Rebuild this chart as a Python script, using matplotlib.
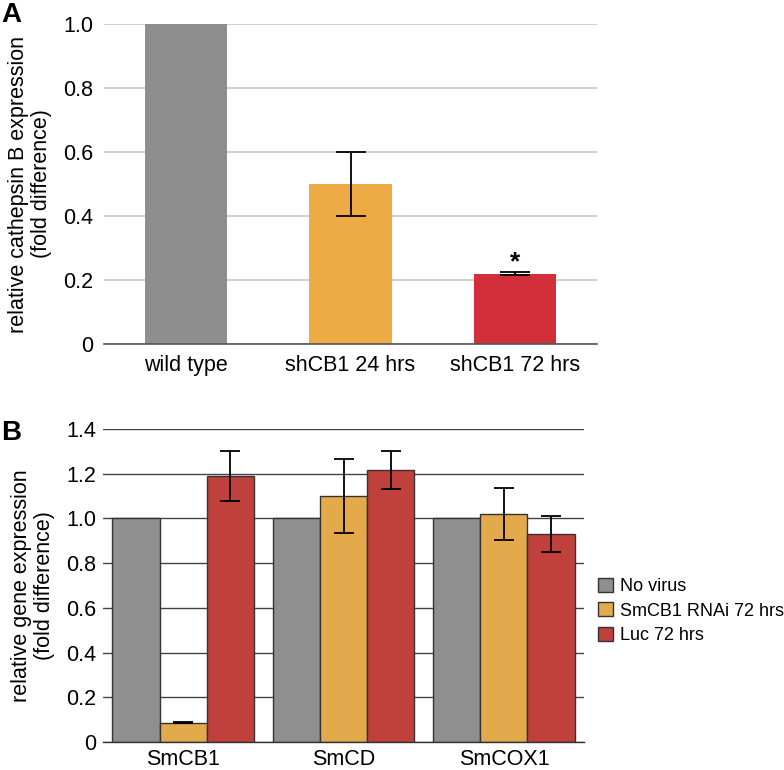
import numpy as np
import matplotlib
matplotlib.use("Agg")
import matplotlib.pyplot as plt

plt.rcParams['font.family'] = ['Liberation Sans', 'DejaVu Sans']

# Panel A data
a_labels = ['wild type', 'shCB1 24 hrs', 'shCB1 72 hrs']
a_values = [1.0, 0.50, 0.22]
a_errors = [0.0, 0.10, 0.004]
a_colors = ['#8e8e8e', '#eeab45', '#d22f3a']

# Panel B data
b_genes = ['SmCB1', 'SmCD', 'SmCOX1']
b_series = ['No virus', 'SmCB1 RNAi 72 hrs', 'Luc 72 hrs']
b_novirus = [1.0, 1.0, 1.0]
b_rnai = [0.086, 1.10, 1.02]
b_rnai_err = [0.003, 0.165, 0.115]
b_luc = [1.19, 1.215, 0.93]
b_luc_err = [0.11, 0.085, 0.08]
b_colors = ['#8f8f8f', '#e3aa4b', '#c0403c']

FS = 15.5

fig = plt.figure(figsize=(7.84, 7.70), dpi=100)

# ---- Panel A ----
axA = fig.add_axes([0.1327, 0.5532, 0.6288, 0.4156])
x = np.arange(len(a_labels))
axA.bar(x, a_values, width=0.5, color=a_colors, zorder=2)
for i in range(1, len(a_labels)):
    axA.errorbar(x[i], a_values[i], yerr=a_errors[i], fmt='none', ecolor='black',
                 elinewidth=1.3, capsize=10.5, capthick=1.3, zorder=3)
axA.text(x[2], a_values[2] + a_errors[2] - 0.005, '*', ha='center', va='bottom',
         fontsize=19, fontweight='bold')
axA.set_xlim(-0.5, 2.5)
axA.set_ylim(0, 1.0)
axA.set_yticks([0, 0.2, 0.4, 0.6, 0.8, 1.0])
axA.set_yticklabels(['0', '0.2', '0.4', '0.6', '0.8', '1.0'])
axA.set_xticks(x)
axA.set_xticklabels(a_labels)
axA.yaxis.grid(True, color='#c8c8c8', linewidth=1.2, zorder=0)
axA.set_axisbelow(True)
for s in ['top', 'right', 'left']:
    axA.spines[s].set_visible(False)
axA.spines['bottom'].set_color('#555555')
axA.spines['bottom'].set_linewidth(1.2)
axA.tick_params(length=0, labelsize=FS, pad=8)
axA.set_ylabel('relative cathepsin B expression\n(fold difference)', fontsize=FS,
               labelpad=8, linespacing=1.1)

# ---- Panel B ----
axB = fig.add_axes([0.1314, 0.0364, 0.6136, 0.4065])
xb = np.arange(len(b_genes))
w = 0.294
axB.bar(xb - w, b_novirus, width=w, color=b_colors[0], edgecolor='#333333',
        linewidth=1.0, label=b_series[0], zorder=2)
axB.bar(xb, b_rnai, width=w, color=b_colors[1], edgecolor='#333333',
        linewidth=1.0, label=b_series[1], zorder=2)
axB.bar(xb + w, b_luc, width=w, color=b_colors[2], edgecolor='#333333',
        linewidth=1.0, label=b_series[2], zorder=2)
axB.errorbar(xb, b_rnai, yerr=b_rnai_err, fmt='none', ecolor='black',
             elinewidth=1.3, capsize=7, capthick=1.3, zorder=3)
axB.errorbar(xb + w, b_luc, yerr=b_luc_err, fmt='none', ecolor='black',
             elinewidth=1.3, capsize=7, capthick=1.3, zorder=3)
axB.set_xlim(-0.5, 2.5)
axB.set_ylim(0, 1.4)
axB.set_yticks([0, 0.2, 0.4, 0.6, 0.8, 1.0, 1.2, 1.4])
axB.set_yticklabels(['0', '0.2', '0.4', '0.6', '0.8', '1.0', '1.2', '1.4'])
axB.set_xticks(xb)
axB.set_xticklabels(b_genes)
axB.yaxis.grid(True, color='#444444', linewidth=1.0, zorder=0)
axB.set_axisbelow(True)
for s in ['top', 'right', 'left']:
    axB.spines[s].set_visible(False)
axB.spines['bottom'].set_color('#333333')
axB.spines['bottom'].set_linewidth(1.0)
axB.tick_params(length=0, labelsize=FS, pad=5)
axB.set_ylabel('relative gene expression\n(fold difference)', fontsize=FS,
               labelpad=8, linespacing=1.1)

fig.legend(loc='center left', bbox_to_anchor=(0.763, 1 - 611 / 770), frameon=False,
           fontsize=13, handlelength=0.8, handleheight=0.8, handletextpad=0.4,
           labelspacing=0.4, borderaxespad=0, borderpad=0)

fig.text(0.002, 0.997, 'A', fontsize=20, fontweight='bold', ha='left', va='top')
fig.text(0.002, 1 - 420 / 770, 'B', fontsize=20, fontweight='bold', ha='left', va='top')

fig.savefig('out.png', dpi=100)
